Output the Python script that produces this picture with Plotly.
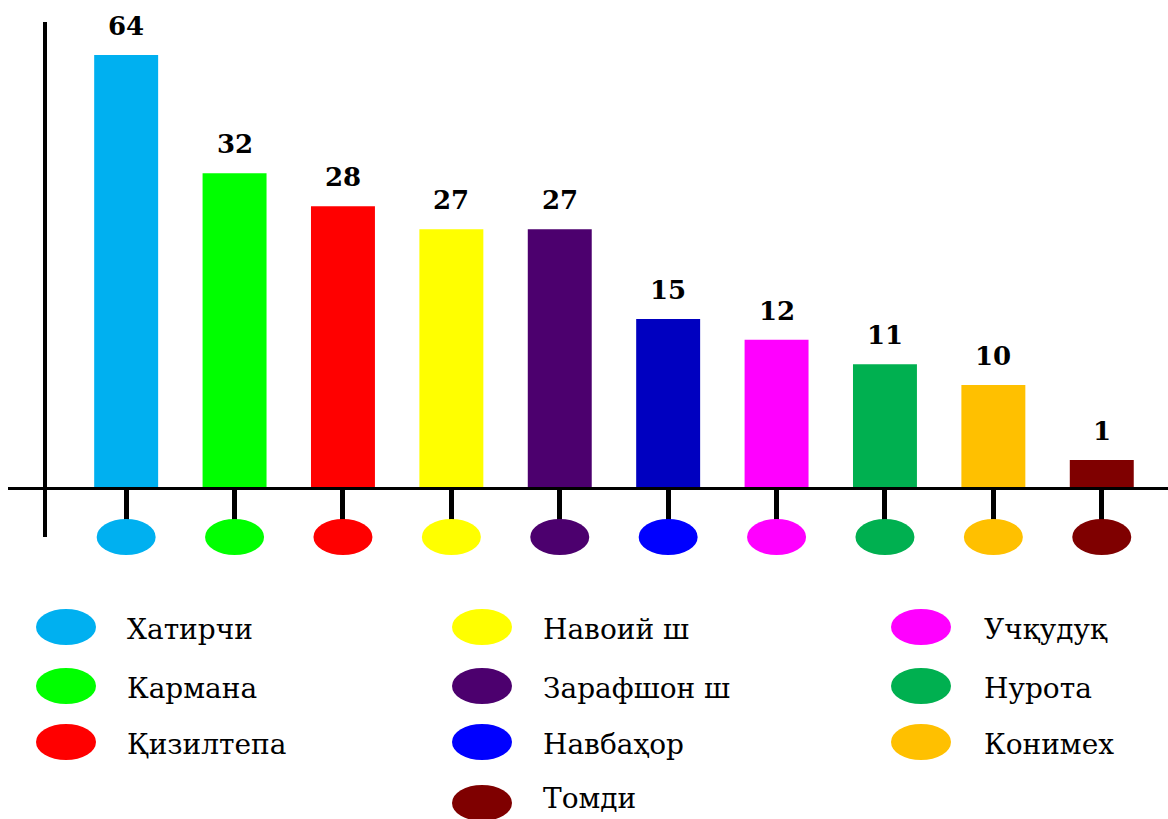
import plotly.graph_objects as go

# ---------------- data ----------------
districts = ["Хатирчи", "Кармана", "Қизилтепа", "Навоий ш", "Зарафшон ш",
             "Навбаҳор", "Учқудуқ", "Нурота", "Конимех", "Томди"]
counts = [64, 32, 28, 27, 27, 15, 12, 11, 10, 1]
# bar lengths as drawn in the source picture (its bars are not to scale),
# read off the picture in units where the tallest bar equals 64
bar_lengths = [64, 46.5, 41.6, 38.2, 38.2, 24.9, 21.8, 18.2, 15.1, 4.0]
bar_colors = ["#00B0F0", "#00FF00", "#FF0000", "#FFFF00", "#4C006E",
              "#0000C0", "#FF00FF", "#00B050", "#FFC000", "#7F0000"]
dot_colors = ["#00B0F0", "#00FF00", "#FF0000", "#FFFF00", "#4C006E",
              "#0000FF", "#FF00FF", "#00B050", "#FFC000", "#7F0000"]
legend_columns = [[0, 1, 2], [3, 4, 5, 9], [6, 7, 8]]

# ---------------- layout constants (pixels) ----------------
W, H = 1168, 819
BASE_PX = 487            # y pixel of the horizontal axis
X_LEFT_PX = 8            # left end of horizontal axis
def py(p):               # pixel row -> paper y
    return 1 - p / H
def px(p):               # pixel column -> paper x
    return p / W

VALUE_FONT = dict(family="DejaVu Serif", size=26, color="black", weight="bold")
LEGEND_FONT = dict(family="DejaVu Serif", size=28, color="black")

fig = go.Figure()
fig.add_trace(go.Bar(
    x=districts, y=bar_lengths, width=0.59,
    marker=dict(color=bar_colors, line=dict(width=0)),
    text=[str(c) for c in counts], textposition="none",
    hovertemplate="%{x}: %{text}<extra></extra>", showlegend=False,
))

annotations = []
for name, length, c in zip(districts, bar_lengths, counts):
    annotations.append(dict(x=name, y=length, xref="x", yref="y", text=str(c),
                            showarrow=False, yanchor="bottom", yshift=12,
                            font=VALUE_FONT))

shapes = []
# vertical axis line (decorative, extends below the baseline)
shapes.append(dict(type="line", xref="paper", yref="paper",
                   x0=px(45), x1=px(45), y0=py(537), y1=py(22),
                   line=dict(color="black", width=4)))
# coloured ellipses hanging under each bar
for i, col in enumerate(dot_colors):
    shapes.append(dict(type="circle", xref="x", xsizemode="pixel", xanchor=i,
                       x0=-29.5, x1=29.5, yref="paper",
                       y0=py(555), y1=py(519),
                       fillcolor=col, line=dict(width=0), layer="above"))

# custom three-column legend
col_dot_x = [66, 482, 921]
col_text_x = [125, 541, 982]
row_y = [627, 686, 742, 803]
text_dy = [2, 2, 2, -5]
for c, idxs in enumerate(legend_columns):
    for r, idx in enumerate(idxs):
        cy = row_y[r]
        shapes.append(dict(type="circle", xref="paper", yref="paper",
                           x0=px(col_dot_x[c] - 30), x1=px(col_dot_x[c] + 30),
                           y0=py(cy + 18), y1=py(cy - 18),
                           fillcolor=dot_colors[idx], line=dict(width=0)))
        annotations.append(dict(x=px(col_text_x[c]), y=py(cy + text_dy[r]),
                                xref="paper", yref="paper",
                                text=districts[idx], showarrow=False,
                                xanchor="left", yanchor="middle", font=LEGEND_FONT))

# axis ranges: category centres follow the source spacing
x_range = [-1.090, 9.611]
y_top = BASE_PX * 64 / 432

fig.update_layout(
    width=W, height=H,
    margin=dict(l=0, r=0, t=0, b=0),
    paper_bgcolor="white", plot_bgcolor="white",
    showlegend=False,
    xaxis=dict(domain=[px(X_LEFT_PX), 1], range=x_range, type="category",
               showline=True, linecolor="black", linewidth=3,
               ticks="outside", ticklen=33, tickwidth=5, tickcolor="black",
               showticklabels=False, showgrid=False, zeroline=False, fixedrange=True),
    yaxis=dict(domain=[py(BASE_PX), 1], range=[0, y_top],
               showline=False, showticklabels=False, ticks="",
               showgrid=False, zeroline=False, fixedrange=True),
    shapes=shapes,
    annotations=annotations,
)

fig.write_html("out.html", config={"displayModeBar": False},
               post_script="document.body.style.margin='0';document.body.style.overflow='hidden';")
